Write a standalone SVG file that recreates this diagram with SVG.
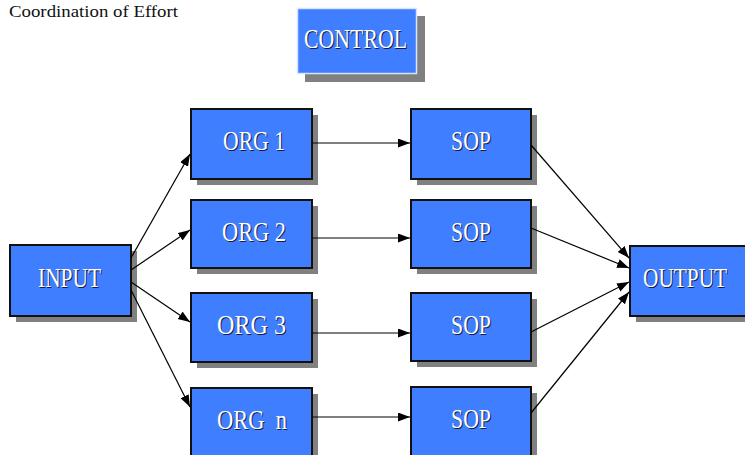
<svg xmlns="http://www.w3.org/2000/svg" width="745" height="455" viewBox="0 0 745 455">
<defs>
<marker id="ah" markerUnits="userSpaceOnUse" markerWidth="13" markerHeight="10" refX="12" refY="4.5" orient="auto">
<path d="M0,0 L12,4.5 L0,9 Z" fill="#000"/>
</marker>
</defs>
<style>
.bg{fill:#fff}
.sh{fill:#808080}
.box{fill:#3f7fff;stroke:#111;stroke-width:2}
.ctl{fill:#3f7fff;stroke:#d8e4ff;stroke-width:1.5}
.lbl{font-family:"Liberation Serif",serif;font-size:27px;fill:#fff;text-anchor:start}
.lsh{font-family:"Liberation Serif",serif;font-size:27px;fill:#1a1a40;text-anchor:start}
.title{font-family:"Liberation Serif",serif;font-size:16px;fill:#111}
.con{stroke:#000;stroke-width:1.2;fill:none;marker-end:url(#ah)}
</style>
<rect class="bg" width="745" height="455"/>
<text class="title" x="9" y="17" textLength="169" lengthAdjust="spacingAndGlyphs">Coordination of Effort</text>

<g id="control">
<rect class="sh" x="305" y="16" width="120" height="66"/>
<rect class="ctl" x="297.5" y="8.5" width="119" height="65"/>
<text class="lsh" x="305" y="49" textLength="103" lengthAdjust="spacingAndGlyphs">CONTROL</text>
<text class="lbl" x="304" y="48" textLength="103" lengthAdjust="spacingAndGlyphs">CONTROL</text>
</g>

<g id="input">
<rect class="sh" x="16" y="251" width="121" height="71"/>
<rect class="box" x="10" y="245" width="121" height="71"/>
<text class="lsh" x="39" y="288" textLength="63" lengthAdjust="spacingAndGlyphs">INPUT</text>
<text class="lbl" x="38" y="287" textLength="63" lengthAdjust="spacingAndGlyphs">INPUT</text>
</g>

<g id="org1">
<rect class="sh" x="197" y="115" width="121" height="70"/>
<rect class="box" x="191" y="109" width="121" height="70"/>
<text class="lsh" x="224" y="151" textLength="62" lengthAdjust="spacingAndGlyphs">ORG 1</text>
<text class="lbl" x="223" y="150" textLength="62" lengthAdjust="spacingAndGlyphs">ORG 1</text>
</g>
<g id="org2">
<rect class="sh" x="197" y="206" width="121" height="68"/>
<rect class="box" x="191" y="200" width="121" height="68"/>
<text class="lsh" x="223" y="242" textLength="64" lengthAdjust="spacingAndGlyphs">ORG 2</text>
<text class="lbl" x="222" y="241" textLength="64" lengthAdjust="spacingAndGlyphs">ORG 2</text>
</g>
<g id="org3">
<rect class="sh" x="197" y="299" width="121" height="69"/>
<rect class="box" x="191" y="293" width="121" height="69"/>
<text class="lsh" x="218" y="335" textLength="69" lengthAdjust="spacingAndGlyphs">ORG 3</text>
<text class="lbl" x="217" y="334" textLength="69" lengthAdjust="spacingAndGlyphs">ORG 3</text>
</g>
<g id="orgn">
<rect class="sh" x="197" y="394" width="121" height="70"/>
<rect class="box" x="191" y="388" width="121" height="70"/>
<text class="lsh" x="218" y="430" textLength="70" lengthAdjust="spacingAndGlyphs" xml:space="preserve">ORG  n</text>
<text class="lbl" x="217" y="429" textLength="70" lengthAdjust="spacingAndGlyphs" xml:space="preserve">ORG  n</text>
</g>

<g id="sop1">
<rect class="sh" x="417" y="115" width="120" height="70"/>
<rect class="box" x="411" y="109" width="120" height="70"/>
<text class="lsh" x="452" y="151" textLength="40" lengthAdjust="spacingAndGlyphs">SOP</text>
<text class="lbl" x="451" y="150" textLength="40" lengthAdjust="spacingAndGlyphs">SOP</text>
</g>
<g id="sop2">
<rect class="sh" x="417" y="206" width="120" height="68"/>
<rect class="box" x="411" y="200" width="120" height="68"/>
<text class="lsh" x="452" y="242" textLength="40" lengthAdjust="spacingAndGlyphs">SOP</text>
<text class="lbl" x="451" y="241" textLength="40" lengthAdjust="spacingAndGlyphs">SOP</text>
</g>
<g id="sop3">
<rect class="sh" x="417" y="299" width="120" height="68"/>
<rect class="box" x="411" y="293" width="120" height="68"/>
<text class="lsh" x="452" y="335" textLength="40" lengthAdjust="spacingAndGlyphs">SOP</text>
<text class="lbl" x="451" y="334" textLength="40" lengthAdjust="spacingAndGlyphs">SOP</text>
</g>
<g id="sop4">
<rect class="sh" x="417" y="393" width="120" height="70"/>
<rect class="box" x="411" y="387" width="120" height="70"/>
<text class="lsh" x="452" y="429" textLength="40" lengthAdjust="spacingAndGlyphs">SOP</text>
<text class="lbl" x="451" y="428" textLength="40" lengthAdjust="spacingAndGlyphs">SOP</text>
</g>

<g id="output">
<rect class="sh" x="636" y="252" width="130" height="70"/>
<rect class="box" x="630" y="246" width="130" height="70"/>
<text class="lsh" transform="translate(644,288) scale(0.79,1)" x="0" y="0">OUTPUT</text>
<text class="lbl" transform="translate(643,287) scale(0.79,1)" x="0" y="0">OUTPUT</text>
</g>

<g id="connectors">
<line class="con" x1="131" y1="258" x2="190" y2="154"/>
<line class="con" x1="131" y1="270" x2="190" y2="230"/>
<line class="con" x1="131" y1="282" x2="190" y2="322"/>
<line class="con" x1="131" y1="290" x2="190" y2="407"/>
<line class="con" x1="312" y1="143" x2="410" y2="143"/>
<line class="con" x1="312" y1="238" x2="410" y2="238"/>
<line class="con" x1="312" y1="333" x2="410" y2="333"/>
<line class="con" x1="312" y1="417" x2="410" y2="417"/>
<line class="con" x1="531" y1="145" x2="629" y2="258"/>
<line class="con" x1="531" y1="228" x2="629" y2="268"/>
<line class="con" x1="531" y1="332" x2="629" y2="282"/>
<line class="con" x1="531" y1="413" x2="629" y2="292"/>
</g>
</svg>
